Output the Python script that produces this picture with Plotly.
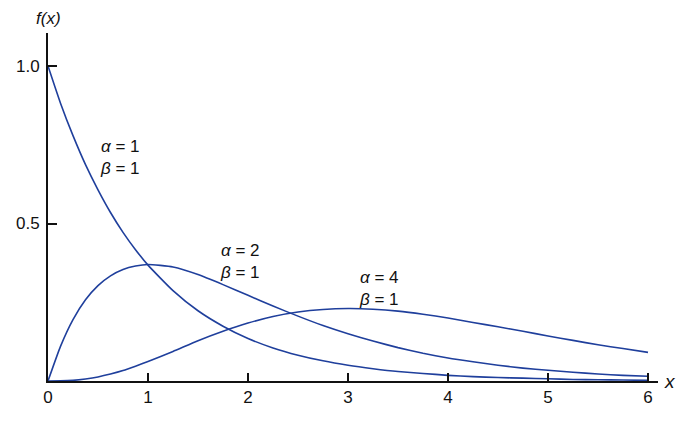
import plotly.graph_objects as go

x_vals = [0, 0.125, 0.25, 0.375, 0.5, 0.625, 0.75, 0.875, 1, 1.25, 1.5, 1.75, 2, 2.25,
          2.5, 2.75, 3, 3.25, 3.5, 3.75, 4, 4.25, 4.5, 4.75, 5, 5.25, 5.5, 5.75, 6]
f_a1 = [1.000, 0.882, 0.779, 0.687, 0.607, 0.535, 0.472, 0.417, 0.368, 0.287, 0.223,
        0.174, 0.135, 0.105, 0.082, 0.064, 0.050, 0.039, 0.030, 0.024, 0.018, 0.014,
        0.011, 0.009, 0.007, 0.005, 0.004, 0.003, 0.002]
f_a2 = [0.0, 0.110, 0.195, 0.258, 0.303, 0.334, 0.354, 0.365, 0.370, 0.362, 0.338,
        0.306, 0.272, 0.238, 0.206, 0.176, 0.150, 0.127, 0.106, 0.088, 0.073, 0.061,
        0.050, 0.041, 0.034, 0.028, 0.022, 0.018, 0.015]
f_a4 = [0.0, 0.0003, 0.002, 0.0065, 0.013, 0.022, 0.033, 0.047, 0.062, 0.094, 0.128,
        0.158, 0.184, 0.205, 0.219, 0.227, 0.230, 0.228, 0.222, 0.212, 0.200, 0.186,
        0.172, 0.158, 0.143, 0.129, 0.115, 0.103, 0.091]

x_ticks = [0, 1, 2, 3, 4, 5, 6]
x_tick_labels = ["0", "1", "2", "3", "4", "5", "6"]
y_ticks = [0.5, 1.0]
y_tick_labels = ["0.5", "1.0"]

line_color = "#1f3f9c"
font_family = "Liberation Sans, Arial, sans-serif"

fig = go.Figure()
for ys in (f_a1, f_a2, f_a4):
    fig.add_trace(go.Scatter(x=x_vals, y=ys, mode="lines",
                             line=dict(color=line_color, width=1.6, shape="spline", smoothing=0.5),
                             hoverinfo="skip", showlegend=False))

labels = [
    (0.5, 0.78, "<i>α</i> = 1<br><i>β</i> = 1"),
    (1.7, 0.45, "<i>α</i> = 2<br><i>β</i> = 1"),
    (3.09, 0.365, "<i>α</i> = 4<br><i>β</i> = 1"),
]
for lx, ly, txt in labels:
    fig.add_annotation(x=lx, y=ly, text=txt, showarrow=False, xanchor="left", yanchor="top",
                       align="left", font=dict(size=17, color="#111111", family=font_family))

fig.add_annotation(x=0, y=1.105, xref="x", yref="y", text="<i>f(x)</i>", showarrow=False,
                   xanchor="center", yanchor="bottom", yshift=3,
                   font=dict(size=17, color="#111111", family=font_family))
fig.add_annotation(x=6.1, y=0, text="<i>x</i>", showarrow=False, xanchor="left",
                   yanchor="middle", xshift=4, font=dict(size=19, color="#111111", family=font_family))

fig.update_layout(
    width=700, height=422,
    margin=dict(l=40, r=50, t=25, b=49),
    paper_bgcolor="white", plot_bgcolor="white",
    font=dict(family=font_family, size=17, color="#111111"),
    xaxis=dict(range=[0, 6.1], showgrid=False, zeroline=False, showline=True, automargin=False,
               linecolor="#111111", linewidth=2, ticks="inside", ticklen=8, tickwidth=1.5,
               tickcolor="#111111", tickvals=x_ticks, ticktext=x_tick_labels, fixedrange=True),
    yaxis=dict(range=[0, 1.105], showgrid=False, zeroline=False, showline=True, automargin=False,
               linecolor="#111111", linewidth=2, ticks="inside", ticklen=9, tickwidth=1.5,
               tickcolor="#111111", tickvals=y_ticks, ticktext=y_tick_labels, fixedrange=True,
               ticklabelstandoff=3),
)

fig.write_html("out.html")
